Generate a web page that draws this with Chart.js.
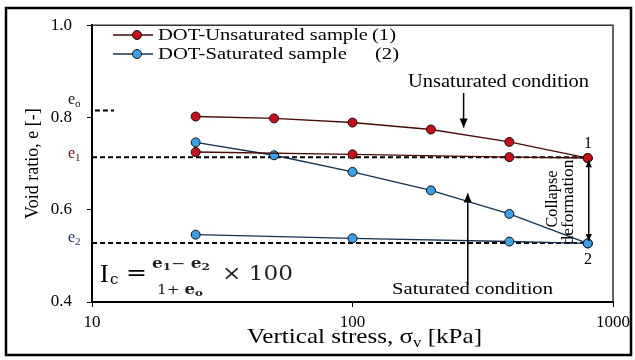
<!DOCTYPE html>
<html><head><meta charset="utf-8">
<script src="https://cdn.jsdelivr.net/npm/chart.js@4.4.0/dist/chart.umd.min.js"></script>
<style>html,body{margin:0;padding:0;background:#fff;}canvas{display:block;}</style>
</head><body>
<canvas id="c" width="635" height="360"></canvas>
<script>
// ---- data ----
const stressUnsat = [25, 50, 100, 200, 400, 800];
const voidUnsat = [0.802, 0.798, 0.789, 0.774, 0.747, 0.712];
const stressUnsatFlat = [25, 100, 400, 800];
const voidUnsatFlat = [0.725, 0.720, 0.714, 0.712];
const stressSat = [25, 50, 100, 200, 400, 800];
const voidSat = [0.746, 0.718, 0.682, 0.642, 0.591, 0.527];
const stressSatFlat = [25, 100, 400, 800];
const voidSatFlat = [0.546, 0.538, 0.531, 0.527];
const seriesNames = ['DOT-Unsaturated sample', 'DOT-Saturated sample'];
const seriesTags = ['(1)', '(2)'];
const xTickValues = [10, 100, 1000];
const yTickValues = [0.4, 0.6, 0.8, 1.0];
const refLevels = { e0: 0.815, e1: 0.714, e2: 0.528 };

const pts = (xs, ys) => xs.map((x, i) => ({ x: x, y: ys[i] }));
const RED_LINE = '#4a0a0a', RED_FILL = '#c8101a';
const BLUE_LINE = '#17324f', BLUE_FILL = '#3aa0e8';
const SERIF = '"Liberation Serif", "Times New Roman", serif';

function ds(label, data, line, fill) {
  return { label: label, data: data, showLine: true, borderColor: line, borderWidth: 1.4,
    pointRadius: 4.5, pointBackgroundColor: fill, pointBorderColor: '#111', pointBorderWidth: 1,
    tension: 0 };
}

// rich text: parts [{t, size, dy, font}], scaled horizontally to width w
function rich(ctx, parts, x, y, opt) {
  opt = opt || {};
  ctx.save();
  ctx.fillStyle = opt.color || '#000';
  ctx.textBaseline = 'alphabetic';
  ctx.textAlign = 'left';
  let total = 0;
  parts.forEach(p => { ctx.font = (p.weight || '') + ' ' + p.size + 'px ' + (p.font || SERIF); p.mw = ctx.measureText(p.t).width; total += p.mw; });
  const sx = opt.w ? opt.w / total : 1;
  ctx.translate(x, y);
  if (opt.rot) ctx.rotate(opt.rot);
  ctx.scale(sx, 1);
  let cx = opt.center ? -total / 2 : 0;
  parts.forEach(p => { ctx.font = (p.weight || '') + ' ' + p.size + 'px ' + (p.font || SERIF); ctx.fillText(p.t, cx, p.dy || 0); cx += p.mw; });
  ctx.restore();
}

function arrow(ctx, x1, y1, x2, y2, head, both) {
  ctx.save();
  ctx.strokeStyle = '#000'; ctx.fillStyle = '#000'; ctx.lineWidth = 1.5;
  ctx.beginPath(); ctx.moveTo(x1, y1); ctx.lineTo(x2, y2); ctx.stroke();
  const drawHead = (ax, ay, bx, by) => {
    const a = Math.atan2(by - ay, bx - ax);
    ctx.beginPath();
    ctx.moveTo(bx, by);
    ctx.lineTo(bx - head * Math.cos(a) + head * 0.45 * Math.sin(a), by - head * Math.sin(a) - head * 0.45 * Math.cos(a));
    ctx.lineTo(bx - head * Math.cos(a) - head * 0.45 * Math.sin(a), by - head * Math.sin(a) + head * 0.45 * Math.cos(a));
    ctx.closePath(); ctx.fill();
  };
  drawHead(x1, y1, x2, y2);
  if (both) drawHead(x2, y2, x1, y1);
  ctx.restore();
}

const annot = {
  id: 'annot',
  beforeDraw(chart) {
    const ctx = chart.ctx;
    ctx.save();
    ctx.fillStyle = '#fff'; ctx.fillRect(0, 0, chart.width, chart.height);
    ctx.restore();
  },
  beforeDatasetsDraw(chart) {
    const ctx = chart.ctx, xs = chart.scales.x, ys = chart.scales.y, a = chart.chartArea;
    ctx.save();
    // plot frame top/right
    ctx.strokeStyle = '#333'; ctx.lineWidth = 1.5;
    ctx.beginPath(); ctx.moveTo(a.left, a.top); ctx.lineTo(a.right, a.top); ctx.lineTo(a.right, a.bottom); ctx.stroke();
    // dashed reference levels
    ctx.strokeStyle = '#000'; ctx.lineWidth = 2; ctx.setLineDash([5, 3]);
    const xEnd = xs.getPixelForValue(800);
    [refLevels.e1, refLevels.e2].forEach(v => {
      const y = ys.getPixelForValue(v);
      ctx.beginPath(); ctx.moveTo(a.left, y); ctx.lineTo(xEnd, y); ctx.stroke();
    });
    const y0 = ys.getPixelForValue(refLevels.e0);
    ctx.beginPath(); ctx.moveTo(a.left + 3, y0); ctx.lineTo(a.left + 22, y0); ctx.stroke();
    ctx.restore();
  },
  afterDraw(chart) {
    const ctx = chart.ctx, xs = chart.scales.x, ys = chart.scales.y, a = chart.chartArea;
    // outer frame
    ctx.save(); ctx.strokeStyle = '#000'; ctx.lineWidth = 2.5; ctx.strokeRect(6, 8, 625, 347); ctx.restore();

    // legend
    const lg = [[0, RED_LINE, RED_FILL, 35], [2, BLUE_LINE, BLUE_FILL, 54]];
    lg.forEach((r, i) => {
      const y = r[3];
      ctx.save();
      ctx.strokeStyle = r[1]; ctx.lineWidth = 1.4;
      ctx.beginPath(); ctx.moveTo(113, y); ctx.lineTo(153, y); ctx.stroke();
      ctx.fillStyle = r[2]; ctx.strokeStyle = '#111'; ctx.lineWidth = 1;
      ctx.beginPath(); ctx.arc(137, y, 4.5, 0, Math.PI * 2); ctx.fill(); ctx.stroke();
      ctx.restore();
      rich(ctx, [{ t: chart.data.datasets[r[0]].label, size: 17 }], 158, y + 5, { w: i === 0 ? 210 : 189 });
      rich(ctx, [{ t: seriesTags[i], size: 17 }], i === 0 ? 372 : 375, y + 5, { w: 24 });
    });

    // e labels
    rich(ctx, [{ t: 'e', size: 16 }, { t: 'o', size: 11, dy: 3 }], 68, 104, { color: '#111' });
    rich(ctx, [{ t: 'e', size: 16 }, { t: '1', size: 11, dy: 3 }], 68, ys.getPixelForValue(refLevels.e1) + 1, { color: '#5a1010' });
    rich(ctx, [{ t: 'e', size: 16 }, { t: '2', size: 11, dy: 3 }], 68, ys.getPixelForValue(refLevels.e2) - 1, { color: '#1a2a50' });

    // Unsaturated condition
    rich(ctx, [{ t: 'Unsaturated condition', size: 18 }], 408, 87, { w: 181 });
    const xu = xs.getPixelForValue(267);
    arrow(ctx, xu, 93, xu, ys.getPixelForValue(0.778), 9);
    // Saturated condition
    rich(ctx, [{ t: 'Saturated condition', size: 17 }], 392, 294, { w: 161 });
    const xsat = xs.getPixelForValue(277);
    arrow(ctx, xsat, 285, xsat, ys.getPixelForValue(0.635), 9);

    // collapse deformation
    const x8 = xs.getPixelForValue(800) + 1;
    arrow(ctx, x8, ys.getPixelForValue(refLevels.e1) + 3, x8, ys.getPixelForValue(refLevels.e2) - 2, 7, true);
    rich(ctx, [{ t: 'Collapse', size: 16 }], 557, 199, { rot: -Math.PI / 2, center: true, w: 57 });
    rich(ctx, [{ t: 'deformation', size: 16 }], 573, 202, { rot: -Math.PI / 2, center: true, w: 85 });
    rich(ctx, [{ t: '1', size: 16 }], 584, 148, {});
    rich(ctx, [{ t: '2', size: 16 }], 584, 264, {});

    // formula
    const F = '"DejaVu Serif", serif';
    rich(ctx, [{ t: 'I', size: 26 }], 100, 282, {});
    rich(ctx, [{ t: 'c', size: 15, font: F }], 110, 284, {});
    rich(ctx, [{ t: '=', size: 22, font: F }], 126, 280, { w: 21 });
    rich(ctx, [{ t: 'e', size: 14, font: F, weight: 'bold' }, { t: '1', size: 10, font: F, dy: 2, weight: 'bold' }, { t: '\u2212 ', size: 14, font: F },
      { t: 'e', size: 14, font: F, weight: 'bold' }, { t: '2', size: 10, font: F, dy: 2, weight: 'bold' }], 152, 268, { w: 58, color: '#222' });
    rich(ctx, [{ t: '1+ ', size: 13, font: F }, { t: 'e', size: 14, font: F, weight: 'bold' }, { t: 'o', size: 10, font: F, dy: 2, weight: 'bold' }], 157, 294, { w: 46, color: '#222' });
    rich(ctx, [{ t: '\u00d7 100', size: 21, font: F }], 222, 280, { w: 71, color: '#222' });

    // x-axis title
    rich(ctx, [{ t: 'Vertical stress, \u03c3', size: 21 }, { t: 'v', size: 14, dy: 4 }, { t: ' [kPa]', size: 21 }], 247, 343, { w: 235 });
  }
};

new Chart(document.getElementById('c'), {
  type: 'scatter',
  data: {
    datasets: [
      ds(seriesNames[0], pts(stressUnsat, voidUnsat), RED_LINE, RED_FILL),
      ds('', pts(stressUnsatFlat, voidUnsatFlat), RED_LINE, RED_FILL),
      ds(seriesNames[1], pts(stressSat, voidSat), BLUE_LINE, BLUE_FILL),
      ds('', pts(stressSatFlat, voidSatFlat), BLUE_LINE, BLUE_FILL)
    ]
  },
  options: {
    responsive: false, devicePixelRatio: 1, animation: false,
    layout: { padding: { left: 0, top: 23, right: 22, bottom: 0 } },
    plugins: { legend: { display: false }, tooltip: { enabled: false } },
    scales: {
      x: {
        type: 'logarithmic', min: 10, max: 1000,
        afterBuildTicks: s => { s.ticks = xTickValues.map(v => ({ value: v, major: true })); },
        afterFit: s => { s.height = 58; },
        ticks: { autoSkip: false, maxRotation: 0, padding: 5, color: '#000', font: { family: SERIF, size: 17 },
          callback: v => String(v) },
        grid: { drawOnChartArea: false, tickLength: 5, tickColor: '#000', tickWidth: 1 },
        border: { display: true, color: '#000', width: 2 }
      },
      y: {
        type: 'linear', min: 0.4, max: 1.0,
        afterBuildTicks: s => { s.ticks = yTickValues.map(v => ({ value: v })); },
        afterFit: s => { s.width = 92; },
        ticks: { padding: 15, color: '#000', font: { family: SERIF, size: 17 }, callback: v => v.toFixed(1) },
        grid: { drawOnChartArea: false, tickLength: 5, tickColor: '#000', tickWidth: 1 },
        border: { display: true, color: '#000', width: 2 },
        title: { display: true, text: 'Void ratio, e [-]', color: '#000', font: { family: SERIF, size: 18 }, padding: { top: 22 } }
      }
    }
  },
  plugins: [annot]
});
</script>
</body></html>
